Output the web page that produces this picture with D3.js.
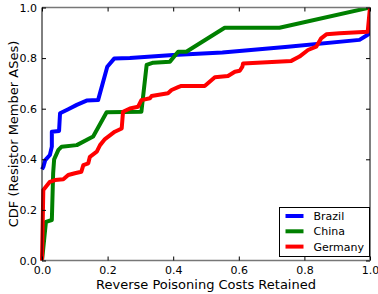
<!DOCTYPE html>
<html>
<head>
<meta charset="utf-8">
<script src="https://cdn.jsdelivr.net/npm/d3@7"></script>
<style>
  body { margin: 0; background: #fff; }
  svg { display: block; font-family: "DejaVu Sans", sans-serif; }
</style>
</head>
<body>
<div id="chart"></div>
<script>
// CDF points, [cost retained, cdf]
const brazil = [[0,0.36],[0.004,0.37],[0.01,0.397],[0.024,0.417],[0.03,0.45],[0.03,0.509],[0.052,0.512],[0.055,0.582],[0.08,0.598],[0.106,0.615],[0.136,0.632],[0.171,0.634],[0.199,0.766],[0.22,0.798],[0.268,0.8],[0.4,0.812],[0.55,0.822],[0.75,0.845],[0.968,0.872],[0.992,0.891],[1.0,0.9],[1.0,1.0]];
const china = [[0,0],[0.004,0.05],[0.012,0.153],[0.03,0.16],[0.034,0.345],[0.037,0.4],[0.05,0.437],[0.06,0.45],[0.106,0.456],[0.156,0.49],[0.197,0.586],[0.303,0.588],[0.319,0.773],[0.339,0.782],[0.39,0.786],[0.415,0.825],[0.44,0.825],[0.557,0.92],[0.724,0.92],[1.0,1.0]];
const germany = [[0,0],[0.004,0.279],[0.024,0.311],[0.04,0.318],[0.065,0.321],[0.08,0.338],[0.1,0.345],[0.12,0.351],[0.126,0.377],[0.141,0.384],[0.146,0.41],[0.167,0.43],[0.177,0.456],[0.192,0.48],[0.222,0.509],[0.243,0.522],[0.247,0.588],[0.268,0.601],[0.293,0.608],[0.303,0.634],[0.329,0.641],[0.334,0.65],[0.384,0.661],[0.395,0.674],[0.415,0.685],[0.425,0.69],[0.496,0.69],[0.527,0.724],[0.567,0.729],[0.588,0.746],[0.603,0.75],[0.611,0.766],[0.613,0.779],[0.76,0.789],[0.785,0.806],[0.811,0.832],[0.836,0.845],[0.851,0.878],[0.867,0.894],[0.907,0.898],[0.993,0.904],[1.0,1.0]];

const seriesNames = ["Brazil", "China", "Germany"];
const seriesColors = ["#0000ff", "#008000", "#ff0000"];
const allSeries = [brazil, china, germany];
const tickVals = [0, 0.2, 0.4, 0.6, 0.8, 1.0];

const W = 378, H = 294;
const m = { t: 7.5, r: 8, b: 33.5, l: 42 };

const svg = d3.select("#chart").append("svg")
    .attr("width", W).attr("height", H);

const x = d3.scaleLinear().domain([0, 1]).range([m.l, W - m.r]);
const y = d3.scaleLinear().domain([0, 1]).range([H - m.b, m.t]);

const line = d3.line().x(d => x(d[0])).y(d => y(d[1]));

// lines, clipped at the frame like matplotlib
svg.append("clipPath").attr("id", "clip")
    .append("rect").attr("x", x(0) - 2).attr("y", y(1))
    .attr("width", x(1) - x(0) + 2).attr("height", y(0) - y(1) + 2);

svg.append("g").attr("clip-path", "url(#clip)")
    .selectAll("path").data(allSeries).enter()
    .append("path")
    .attr("d", line)
    .attr("fill", "none")
    .attr("stroke", (d, i) => seriesColors[i])
    .attr("stroke-width", 4)
    .attr("stroke-linejoin", "round");

// frame: left/right black, top/bottom look grey in the original
svg.append("line").attr("x1", x(0)).attr("x2", x(0)).attr("y1", y(0)).attr("y2", y(1))
    .attr("stroke", "#000");
svg.append("line").attr("x1", x(1)).attr("x2", x(1)).attr("y1", y(0)).attr("y2", y(1))
    .attr("stroke", "#000");
svg.append("line").attr("x1", x(0)).attr("x2", x(1)).attr("y1", y(0)).attr("y2", y(0))
    .attr("stroke", "#777").attr("stroke-width", 1.5);
svg.append("line").attr("x1", x(0)).attr("x2", x(1)).attr("y1", y(1)).attr("y2", y(1))
    .attr("stroke", "#777").attr("stroke-width", 1.5);

// axes with inward ticks
svg.append("g").attr("transform", "translate(0," + y(0) + ")")
    .call(d3.axisBottom(x).tickValues(tickVals).tickFormat(d3.format(".1f")).tickSizeInner(-4).tickSizeOuter(0).tickPadding(6));
svg.append("g").attr("transform", "translate(" + x(0) + ",0)")
    .call(d3.axisLeft(y).tickValues(tickVals).tickFormat(d3.format(".1f")).tickSizeInner(-4).tickSizeOuter(0).tickPadding(5));
svg.append("g").attr("transform", "translate(0," + y(1) + ")")
    .call(d3.axisTop(x).tickValues(tickVals).tickFormat("").tickSizeInner(-4).tickSizeOuter(0));
svg.append("g").attr("transform", "translate(" + x(1) + ",0)")
    .call(d3.axisRight(y).tickValues(tickVals).tickFormat("").tickSizeInner(-4).tickSizeOuter(0));

svg.selectAll(".domain").remove();
svg.selectAll(".tick line").attr("stroke", "#000");
svg.selectAll(".tick text").attr("font-size", 11).attr("fill", "#000")
    .attr("font-family", "DejaVu Sans");

// axis titles
svg.append("text")
    .attr("x", (x(0) + x(1)) / 2).attr("y", 289)
    .attr("text-anchor", "middle").attr("font-size", 13)
    .text("Reverse Poisoning Costs Retained");
svg.append("text")
    .attr("transform", "translate(18," + ((y(0) + y(1)) / 2) + ") rotate(-90)")
    .attr("text-anchor", "middle").attr("font-size", 13)
    .text("CDF (Resistor Member ASes)");

// legend
const lg = svg.append("g").attr("transform", "translate(279.5,207.5)");
lg.append("rect").attr("width", 90).attr("height", 49)
    .attr("fill", "#fff").attr("stroke", "#000").attr("stroke-width", 1);
seriesNames.forEach((name, i) => {
  const ly = 8.5 + i * 15.3;
  lg.append("line").attr("x1", 6).attr("x2", 24).attr("y1", ly).attr("y2", ly)
      .attr("stroke", seriesColors[i]).attr("stroke-width", 4);
  lg.append("text").attr("x", 34).attr("y", ly + 4)
      .attr("font-size", 11).text(name);
});
</script>
</body>
</html>
